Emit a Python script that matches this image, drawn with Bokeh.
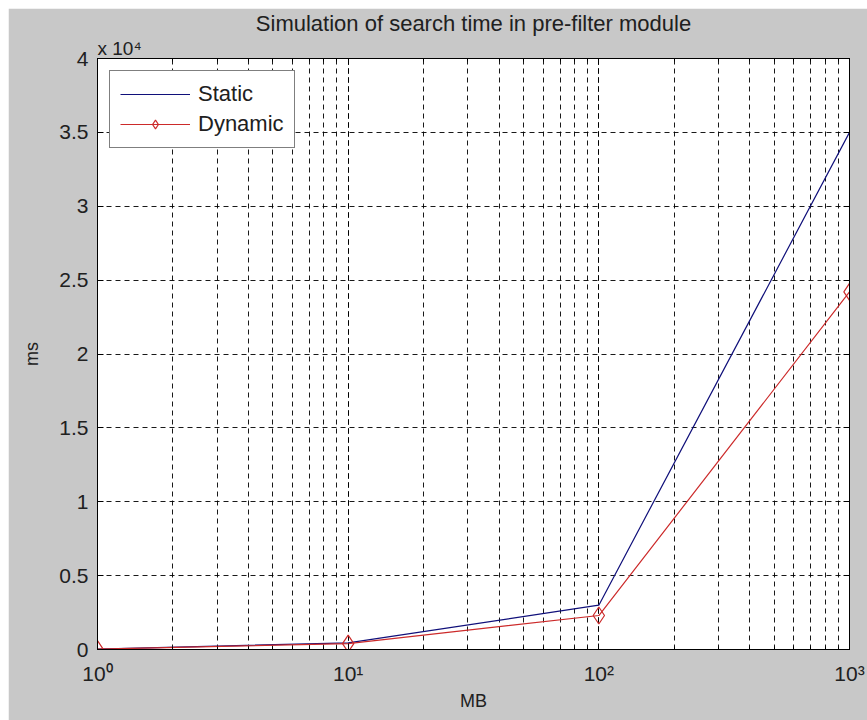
import math
from bokeh.plotting import figure
from bokeh.models import (Range1d, FixedTicker, LogTicker, LinearAxis, LogAxis, Title)
from bokeh.embed import file_html
from bokeh.resources import INLINE

# ---- data ----
mb = [1, 10, 100, 1000]
static_ms = [30, 450, 3000, 35000]
dynamic_ms = [20, 400, 2300, 24200]

y_ticks = [0, 5000, 10000, 15000, 20000, 25000, 30000, 35000, 40000]
y_tick_labels = ["0", "0.5", "1", "1.5", "2", "2.5", "3", "3.5", "4"]
x_ticks = [1, 10, 100, 1000]
x_tick_labels = ["10\u2070", "10\u00b9", "10\u00b2", "10\u00b3"]
y_multiplier = "x 10\u2074"

title_text = "Simulation of search time in pre-filter module"
x_label = "MB"
y_label = "ms"

FONT = "Liberation Sans"
TXT = "#202020"
BG = "#c8c8c8"

p = figure(width=859, height=712, x_axis_type="log",
           x_range=Range1d(1, 1000), y_range=Range1d(0, 40000),
           output_backend="svg", toolbar_location=None,
           min_border_left=89, min_border_right=18,
           min_border_top=50, min_border_bottom=71)
p.margin = (8, 0, 0, 8)
p.border_fill_color = BG
p.background_fill_color = "white"
p.outline_line_color = "black"
p.outline_line_width = 1

# title
p.title.text = title_text
p.title.align = "center"
p.title.text_font = FONT
p.title.text_font_size = "22px"
p.title.text_font_style = "normal"
p.title.text_color = TXT
p.title.standoff = 0

# bottom x axis
xa = p.xaxis[0]
xa.ticker = LogTicker(num_minor_ticks=10)
xa.major_label_overrides = {t: l for t, l in zip(x_ticks, x_tick_labels)}
xa.major_label_text_font = FONT
xa.major_label_text_font_size = "21px"
xa.major_label_text_color = TXT
xa.major_label_standoff = 12
xa.major_tick_in = 6
xa.major_tick_out = 0
xa.minor_tick_in = 3
xa.minor_tick_out = 0
xa.axis_line_color = "black"
xa.axis_label = x_label
xa.axis_label_text_font = FONT
xa.axis_label_text_font_size = "18px"
xa.axis_label_text_font_style = "normal"
xa.axis_label_text_color = TXT
xa.axis_label_standoff = 3

# left y axis
ya = p.yaxis[0]
ya.ticker = FixedTicker(ticks=y_ticks, minor_ticks=[])
ya.major_label_overrides = {t: l for t, l in zip(y_ticks, y_tick_labels)}
ya.major_label_text_font = FONT
ya.major_label_text_font_size = "21px"
ya.major_label_text_color = TXT
ya.major_label_standoff = 9
ya.major_tick_in = 6
ya.major_tick_out = 0
ya.minor_tick_line_color = None
ya.axis_line_color = "black"
ya.axis_label = y_label
ya.axis_label_text_font = FONT
ya.axis_label_text_font_size = "18px"
ya.axis_label_text_font_style = "normal"
ya.axis_label_text_color = TXT
ya.axis_label_standoff = 14

# box axes (ticks only)
ra = LinearAxis(ticker=FixedTicker(ticks=y_ticks, minor_ticks=[]),
                major_label_text_color=None, major_label_text_font_size="1px",
                major_label_standoff=0,
                major_tick_in=6, major_tick_out=0,
                minor_tick_line_color=None, axis_line_color="black")
p.add_layout(ra, "right")
ta = LogAxis(ticker=LogTicker(num_minor_ticks=10),
             major_label_text_color=None, major_label_text_font_size="1px",
             major_label_standoff=0,
             major_tick_in=6, major_tick_out=0,
             minor_tick_in=3, minor_tick_out=0, axis_line_color="black")
p.add_layout(ta, "above")

# y-axis exponent multiplier, left-aligned above the frame
mult = Title(text=y_multiplier, align="left", text_font=FONT, text_font_size="19px",
             text_font_style="normal", text_color=TXT, standoff=0)
p.add_layout(mult, "above")

# grid
for g in (p.xgrid[0], p.ygrid[0]):
    g.grid_line_color = "black"
    g.grid_line_dash = "5 4"
    g.grid_line_width = 1
    g.grid_line_alpha = 0.9
p.xgrid[0].minor_grid_line_color = "black"
p.xgrid[0].minor_grid_line_dash = "5 4"
p.xgrid[0].minor_grid_line_alpha = 0.9

# series
p.line(mb, static_ms, line_color="#10107a", line_width=1.2, legend_label="Static")
p.line(mb, dynamic_ms, line_color="#cc2a2a", line_width=1.2, legend_label="Dynamic")
p.scatter(mb, dynamic_ms, marker="diamond", size=17, fill_color=None,
          line_color="#cc2a2a", line_width=1.2, legend_label="Dynamic")

lg = p.legend[0]
lg.location = "top_left"
lg.margin = 12
lg.border_line_color = "black"
lg.border_line_width = 1
lg.background_fill_color = "white"
lg.background_fill_alpha = 1
lg.label_text_font = FONT
lg.label_text_font_size = "22px"
lg.label_text_color = TXT
lg.glyph_width = 70
lg.glyph_height = 22
lg.label_height = 22
lg.label_standoff = 8
lg.spacing = 4
lg.padding = 10

open("out.html", "w").write(file_html(p, INLINE))
